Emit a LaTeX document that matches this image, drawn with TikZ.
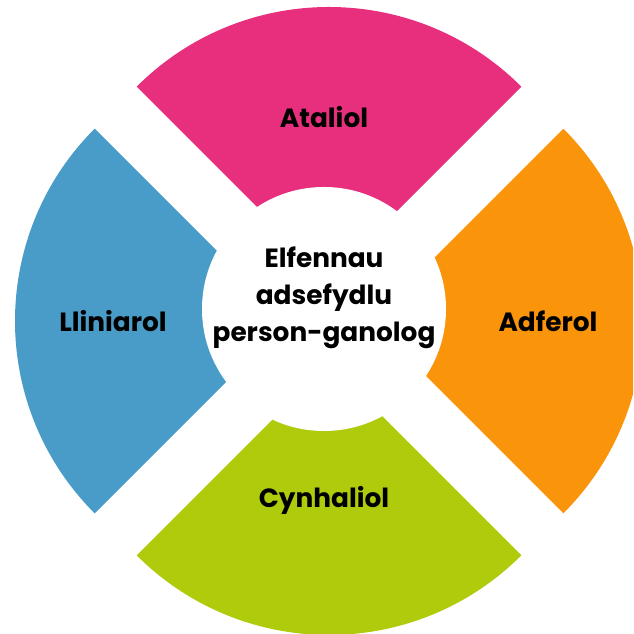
\documentclass[tikz,border=0pt]{standalone}
\usepackage{fontspec}
\setmainfont{Poppins}
\usepackage{tikz}
\usetikzlibrary{positioning,calc}

\definecolor{ataliol}{HTML}{E72F7E}
\definecolor{lliniarol}{HTML}{4A9CC8}
\definecolor{cynhaliol}{HTML}{AFCB0B}
\definecolor{adferol}{HTML}{F9940B}

\tikzset{
    seglabel/.style={font=\bfseries\fontsize{15}{21}\selectfont, text=black, align=center},
}

\begin{document}
\begin{tikzpicture}
    \clip (0,0) rectangle (12.66,12.68);
    \useasboundingbox (0,0) rectangle (12.66,12.68);

    % Four exploded segments
    \foreach \ang/\col in {90/ataliol, 180/lliniarol, 270/cynhaliol, 0/adferol}
        \fill [\col, shift={(\ang:0.84)}] (6.58,6.26) -- +({\ang-45}:5.44)
            arc [start angle={\ang-45}, end angle={\ang+45}, radius=5.44] -- cycle;

    % Centre disc
    \fill [white] (6.48,6.50) circle (2.44);
    \node [seglabel] (centre) at (6.48,6.72) {Elfennau\\adsefydlu\\person-ganolog};

    % Segment labels
    \node [seglabel] (ataliol) at (6.48,10.34) {Ataliol};
    \node [seglabel] (lliniarol) at (2.26,6.26) {Lliniarol};
    \node [seglabel] (adferol) at (10.96,6.26) {Adferol};
    \node [seglabel] (cynhaliol) at (6.48,2.68) {Cynhaliol};

\end{tikzpicture}
\end{document}
